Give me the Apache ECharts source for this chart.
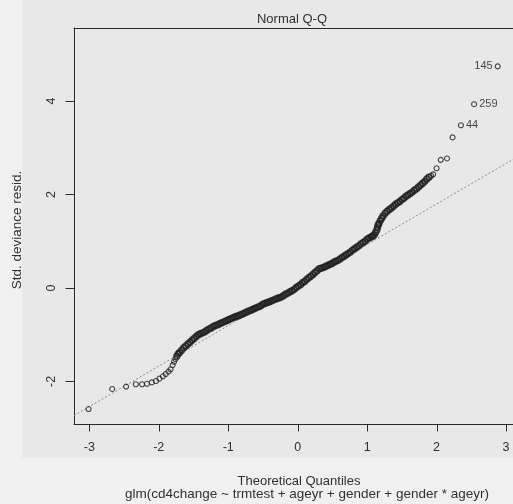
<!DOCTYPE html>
<html><head><meta charset="utf-8">
<script src="https://cdn.jsdelivr.net/npm/echarts@6/dist/echarts.min.js"></script>
<style>html,body{margin:0;padding:0;background:#e8e8e8;overflow:hidden}#c{width:513px;height:504px}</style>
</head><body><div id="c"></div>
<script>
// Theoretical quantiles (x) and standardized deviance residuals (y)
const qx = [-3.01,-2.67,-2.47,-2.33,-2.24,-2.17,-2.10,-2.04,-1.99,-1.94,-1.90,-1.86,-1.83,-1.80,-1.78,-1.76,-1.74,-1.72,-1.70,-1.67,-1.64,-1.61,-1.58,-1.55,-1.52,-1.49,-1.46,-1.43,
-1.40,-1.37,-1.34,-1.31,-1.28,-1.25,-1.22,-1.19,-1.16,-1.13,-1.10,-1.07,-1.04,-1.01,-0.98,-0.95,-0.92,-0.89,-0.86,-0.83,-0.80,-0.77,-0.74,-0.71,-0.68,-0.65,-0.62,-0.59,-0.56,-0.53,-0.50,-0.47,-0.44,-0.41,-0.38,-0.35,-0.32,-0.29,-0.26,-0.23,-0.20,-0.17,-0.14,-0.11,-0.08,-0.05,-0.02,0.01,0.04,0.07,0.10,0.13,0.16,0.19,0.22,0.25,0.28,0.31,0.34,0.37,0.40,0.43,0.46,0.49,0.52,0.55,0.58,0.61,0.64,0.67,0.70,0.73,0.76,0.79,0.82,0.85,0.88,0.91,0.94,0.97,1.00,1.03,1.06,
1.08,1.10,1.12,1.14,1.15,1.16,1.17,1.19,1.21,1.23,1.26,1.29,1.32,1.35,1.38,1.41,1.44,1.47,1.50,1.53,1.56,1.59,1.62,1.65,1.68,1.71,1.74,1.77,1.80,1.83,1.86,1.89,1.92,1.95,2.00,2.06,2.15,2.23,2.35,2.54,2.88];
const qy = [-2.59,-2.16,-2.11,-2.06,-2.06,-2.05,-2.02,-1.99,-1.94,-1.89,-1.84,-1.79,-1.74,-1.65,-1.58,-1.52,-1.46,-1.41,-1.38,-1.33,-1.28,-1.24,-1.20,-1.16,-1.12,-1.08,-1.04,-1.00,
-0.98,-0.96,-0.94,-0.91,-0.88,-0.86,-0.83,-0.81,-0.79,-0.77,-0.75,-0.73,-0.71,-0.69,-0.67,-0.65,-0.63,-0.61,-0.60,-0.58,-0.56,-0.54,-0.52,-0.50,-0.48,-0.46,-0.44,-0.42,-0.40,-0.38,-0.35,-0.33,-0.31,-0.30,-0.28,-0.26,-0.24,-0.22,-0.21,-0.19,-0.16,-0.13,-0.11,-0.08,-0.06,-0.03,0.01,0.04,0.07,0.11,0.14,0.18,0.22,0.25,0.29,0.33,0.37,0.41,0.42,0.44,0.46,0.48,0.50,0.52,0.55,0.57,0.59,0.62,0.65,0.68,0.71,0.74,0.77,0.81,0.84,0.87,0.90,0.94,0.97,1.00,1.04,1.07,1.09,
1.11,1.13,1.18,1.24,1.30,1.35,1.38,1.44,1.49,1.54,1.60,1.64,1.68,1.71,1.75,1.79,1.82,1.85,1.89,1.92,1.96,1.99,2.02,2.05,2.09,2.12,2.16,2.20,2.24,2.28,2.33,2.37,2.40,2.43,2.56,2.74,2.77,3.22,3.48,3.93,4.74];
// Labelled observations (the three largest residuals, in order of increasing residual)
const pointIds = ['44', '259', '145'];
// Reference (qq) line end points
const refX = [-3.22, 3.10];
const refY = [-2.73, 2.75];
// Axis tick values
const xTicks = [-3, -2, -1, 0, 1, 2, 3];
const yTicks = [-2, 0, 2, 4];

const FONT = '"Liberation Sans", Arial, sans-serif';
const TXT = '#303030';
const INK = '#2a2a2a';
const X_MIN = -3.22, X_MAX = 3.10, Y_MIN = -2.91, Y_MAX = 5.56;

const n = qx.length;
const bandPts = [];   // crowded middle part, where the circles merge into a solid band
const loosePts = [];  // tails, where single circles can be seen
qx.forEach((x, i) => {
  const k = i - (n - pointIds.length);
  const item = { value: [x, qy[i]] };
  if (k >= 0) {
    item.label = {
      show: true,
      formatter: pointIds[k],
      position: k === pointIds.length - 1 ? 'left' : 'right',
      distance: 2,
      fontSize: 11,
      fontFamily: FONT,
      color: '#1a1a1a'
    };
  }
  if (x > -1.75 && x < 1.9 && k < 0) bandPts.push(item); else loosePts.push(item);
});

// tick marks, placed through the axes' own scales (api.coord)
function tickRenderer(dir, len) {
  return function (params, api) {
    const p = api.coord([api.value(0), api.value(1)]);
    const px = Math.round(p[0]) + 0.5, py = Math.round(p[1]) + 0.5;
    const shape = dir === 'x'
      ? { x1: px, y1: py, x2: px, y2: py + len }
      : { x1: px - len, y1: py, x2: px, y2: py };
    return { type: 'line', shape: shape, style: { stroke: INK, lineWidth: 1 } };
  };
}

const frameAxis = { type: 'value', min: X_MIN, max: X_MAX, position: 'top', splitLine: { show: false },
  axisLine: { show: true, onZero: false, lineStyle: { color: INK, width: 1 } }, axisTick: { show: false }, axisLabel: { show: false } };

const chart = echarts.init(document.getElementById('c'), null, { renderer: 'canvas' });
chart.setOption({
  animation: false,
  grid: { left: 74, right: 0, top: 28, bottom: 80 },
  graphic: [
    { type: 'rect', z: -10, silent: true, shape: { x: 0, y: 0, width: 22, height: 504 }, style: { fill: '#f0f0f0' } },
    { type: 'rect', z: -10, silent: true, shape: { x: 0, y: 458, width: 513, height: 46 }, style: { fill: '#f0f0f0' } },
    { type: 'text', x: 292, y: 19, style: { text: 'Normal Q-Q', font: '13px ' + FONT, fill: TXT, align: 'center', verticalAlign: 'middle', textAlign: 'center', textVerticalAlign: 'middle' } },
    { type: 'text', x: 17, y: 230, rotation: Math.PI / 2, style: { text: 'Std. deviance resid.', font: '13.5px ' + FONT, fill: TXT, align: 'center', verticalAlign: 'middle', textAlign: 'center', textVerticalAlign: 'middle' } },
    { type: 'text', x: 299, y: 481, style: { text: 'Theoretical Quantiles', font: '13px ' + FONT, fill: TXT, align: 'center', verticalAlign: 'middle', textAlign: 'center', textVerticalAlign: 'middle' } },
    { type: 'text', x: 307, y: 494, style: { text: 'glm(cd4change ~ trmtest + ageyr + gender + gender * ageyr)', font: '13.5px ' + FONT, fill: TXT, align: 'center', verticalAlign: 'middle', textAlign: 'center', textVerticalAlign: 'middle' } }
  ],
  xAxis: [{
    type: 'value', min: X_MIN, max: X_MAX, position: 'bottom',
    splitLine: { show: false },
    axisLine: { show: true, onZero: false, lineStyle: { color: INK, width: 1 } },
    axisTick: { show: false },
    axisLabel: { margin: 17, fontSize: 12.5, fontFamily: FONT, color: TXT, customValues: xTicks }
  }, frameAxis],
  yAxis: {
    type: 'value', min: Y_MIN, max: Y_MAX, position: 'left',
    splitLine: { show: false },
    axisLine: { show: true, onZero: false, lineStyle: { color: INK, width: 1 } },
    axisTick: { show: false },
    axisLabel: { rotate: 90, margin: 16, fontSize: 12.5, fontFamily: FONT, color: TXT, customValues: yTicks }
  },
  series: [
    {
      type: 'line', z: 1, xAxisIndex: 0,
      data: refX.map((x, i) => [x, refY[i]]),
      showSymbol: false, symbol: 'none', silent: true,
      lineStyle: { color: '#8a8a8a', width: 1, type: [2, 2] }
    },
    {
      type: 'scatter', z: 2, xAxisIndex: 0,
      data: bandPts,
      symbol: 'circle', symbolSize: 5.5,
      itemStyle: { color: 'rgba(0,0,0,0)', borderColor: '#1e1e1e', borderWidth: 1.9 },
      silent: true
    },
    {
      type: 'scatter', z: 2, xAxisIndex: 0,
      data: loosePts,
      symbol: 'circle', symbolSize: 5,
      itemStyle: { color: 'rgba(0,0,0,0)', borderColor: '#1e1e1e', borderWidth: 1.1 },
      silent: true
    },
    {
      type: 'custom', xAxisIndex: 0, clip: false, silent: true, z: 3,
      data: xTicks.map(v => [v, Y_MIN]),
      renderItem: tickRenderer('x', 7)
    },
    {
      type: 'custom', xAxisIndex: 0, clip: false, silent: true, z: 3,
      data: yTicks.map(v => [X_MIN, v]),
      renderItem: tickRenderer('y', 9)
    }
  ]
});
</script>
</body></html>
